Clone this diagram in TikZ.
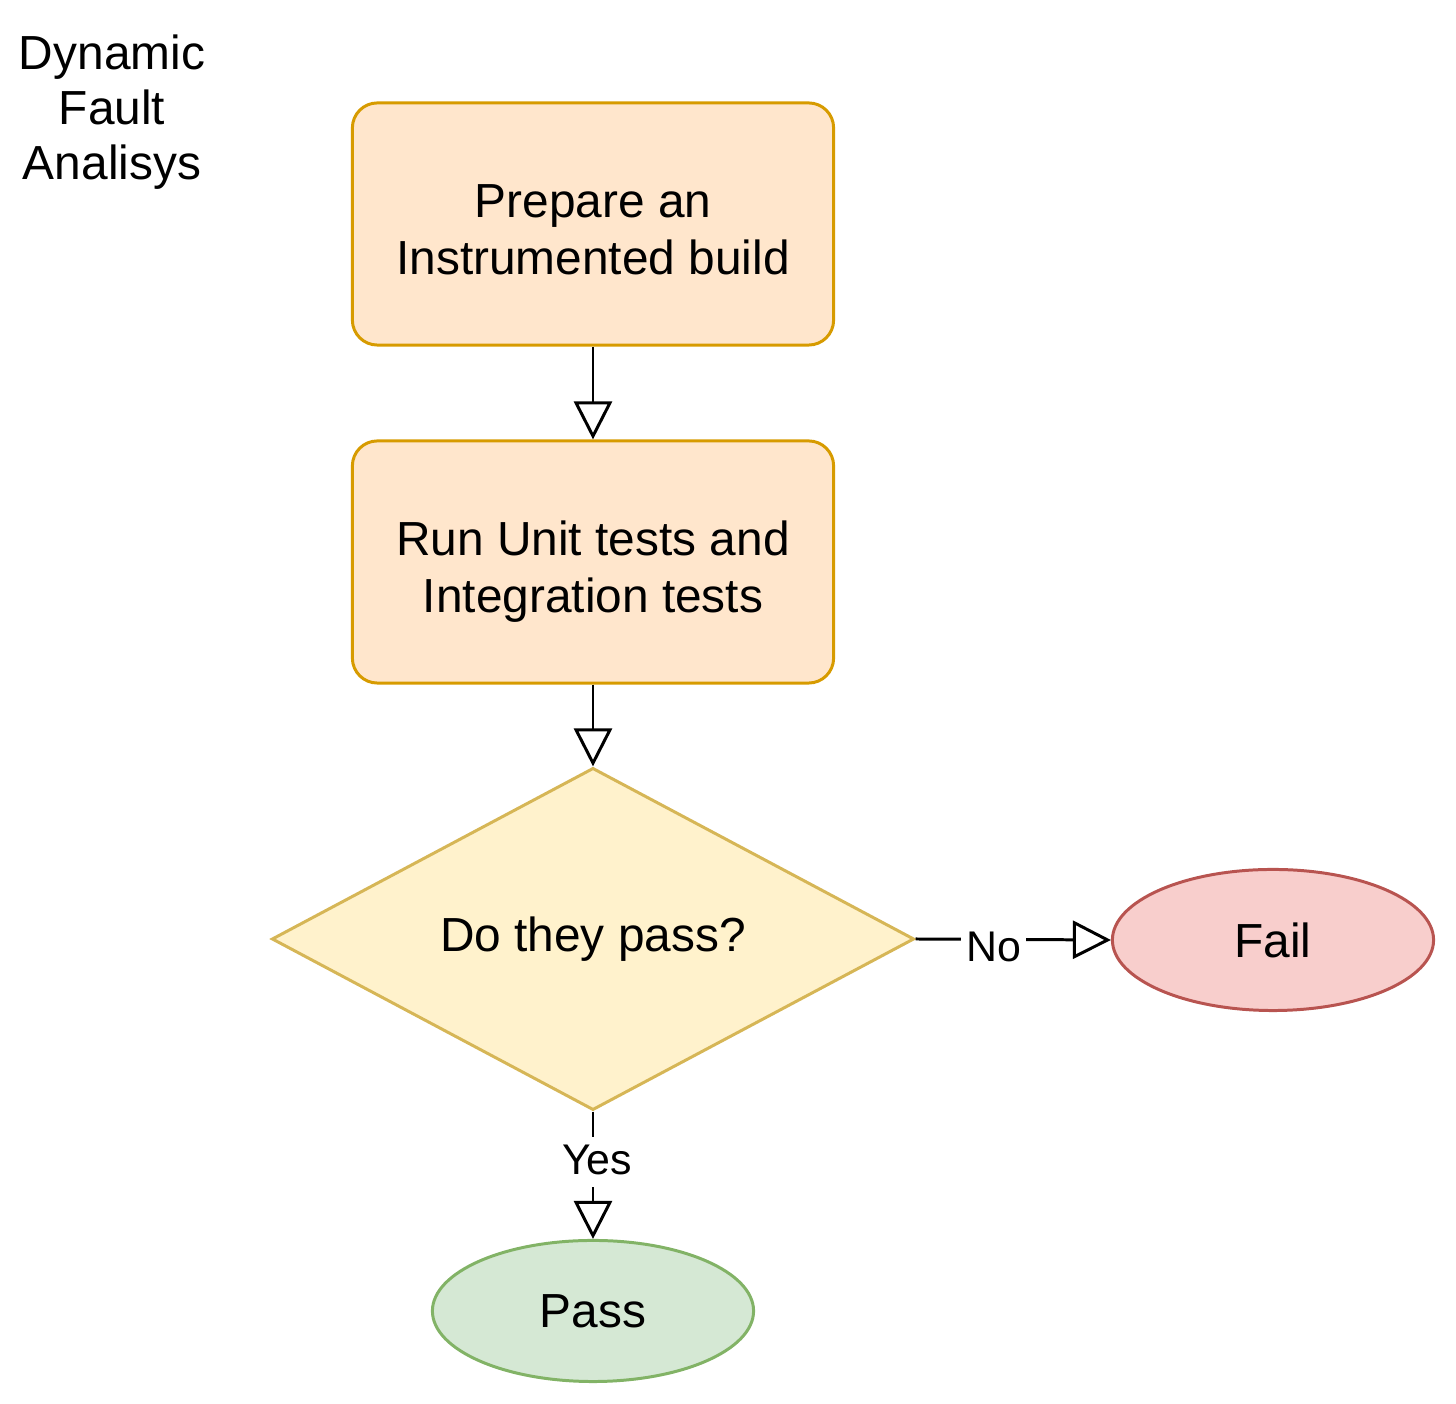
\documentclass[tikz,border=0pt]{standalone}
\usepackage{fontspec}
\setmainfont{Liberation Sans}
\usetikzlibrary{arrows.meta,shapes.geometric}
\definecolor{stepfill}{HTML}{FFE6CC}
\definecolor{stepline}{HTML}{D79B00}
\definecolor{askfill}{HTML}{FFF2CC}
\definecolor{askline}{HTML}{D6B656}
\definecolor{failfill}{HTML}{F8CECC}
\definecolor{failline}{HTML}{B85450}
\definecolor{passfill}{HTML}{D5E8D4}
\definecolor{passline}{HTML}{82B366}

\begin{document}
\begin{tikzpicture}[x=0.01cm,y=-0.01cm,
        bigtext/.style={font=\fontsize{13.6}{16.2}\selectfont},
        stepbox/.style={bigtext, draw=stepline, fill=stepfill, line width=0.85pt,
            rounded corners=0.25cm, minimum width=4.81cm, minimum height=2.42cm, align=center,
            text height=1.0cm, text depth=0cm},
        askbox/.style={bigtext, diamond, draw=askline, fill=askfill, line width=0.85pt,
            inner sep=0pt, aspect=1.877, minimum width=6.42cm, minimum height=3.42cm},
        endbox/.style={bigtext, ellipse, line width=0.85pt, minimum width=3.21cm, minimum height=1.41cm},
        flow/.style={line width=0.85pt, -{Triangle[open, length=0.38cm, width=0.38cm]}},
        lbl/.style={font=\fontsize{12.2}{14}\selectfont, fill=white, inner xsep=0.05cm, inner ysep=0.08cm}]
    \useasboundingbox (0,0) rectangle (1456,1404);
    % title
    \node[bigtext, align=center, font=\fontsize{13.6}{15.6}\selectfont] (title) at (112,112) {Dynamic\\Fault\\Analisys};
    % steps
    \node[stepbox] (prep) at (593,224) {Prepare an\\Instrumented build};
    \node[stepbox] (tests) at (593,562) {Run Unit tests and\\Integration tests};
    \node[askbox] (check) at (593,939) {Do they pass?};
    \node[endbox, draw=failline, fill=failfill] (fail) at (1273,940) {Fail};
    \node[endbox, draw=passline, fill=passfill] (pass) at (593,1311) {Pass};
    % connectors
    \draw[flow] (prep) -- (tests);
    \draw[flow] (tests) -- (check);
    \draw[flow] (check.east) -- node[lbl, pos=0.4, yshift=-0.08cm] (no) {No} (fail.west);
    \draw[flow] (check.south) -- node[lbl, pos=0.396, text depth=0.05cm, xshift=0.04cm] (yes) {Yes} (pass.north);
\end{tikzpicture}
\end{document}
